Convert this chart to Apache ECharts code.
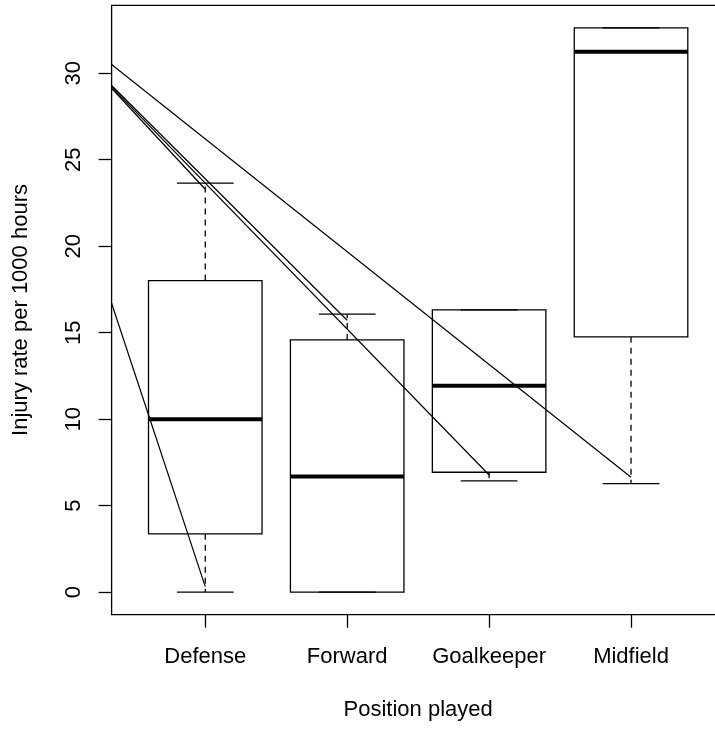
<!DOCTYPE html>
<html>
<head>
<meta charset="utf-8">
<script src="https://cdn.jsdelivr.net/npm/echarts@6/dist/echarts.min.js"></script>
<style>
html,body{margin:0;padding:0;background:#fff}
#c{width:715px;height:729px}
</style>
</head>
<body>
<div id="c"></div>
<script>
// ---- data ----
const categories = ['Defense', 'Forward', 'Goalkeeper', 'Midfield'];
const lowerWhisker = [0, 0, 6.43, 6.27];
const q1Values = [3.37, 0, 6.93, 14.76];
const medianValues = [10.0, 6.68, 11.93, 31.24];
const q3Values = [18.01, 14.58, 16.32, 32.62];
const upperWhisker = [23.65, 16.07, 16.32, 32.62];

// straight line segments drawn over the plot (start at left plot edge)
const segStartY = [29.13, 29.29, 29.21, 30.5, 16.7];
const segEndX = [1, 2, 3, 4, 1];
const segEndY = [23.29, 15.72, 6.77, 6.64, 0.32];

const yTicks = [0, 5, 10, 15, 20, 25, 30];
const xTicks = [1, 2, 3, 4];
const xTitle = 'Position played';
const yTitle = 'Injury rate per 1000 hours';

// ---- axis ranges (R style: 4% extension) ----
const xLo = 0.5, xHi = categories.length + 0.5;
const xPad = (xHi - xLo) * 0.04;
const xMin = xLo - xPad, xMax = xHi + xPad;
const allY = lowerWhisker.concat(upperWhisker, q1Values, q3Values);
const yLo = Math.min.apply(null, allY), yHi = Math.max.apply(null, allY);
const yPad = (yHi - yLo) * 0.04;
const yMin = yLo - yPad, yMax = yHi + yPad;

const FONT = '"Liberation Sans", Arial, Helvetica, sans-serif';
const boxData = categories.map((c, i) => [i + 1, lowerWhisker[i], q1Values[i], medianValues[i], q3Values[i], upperWhisker[i]]);

const chart = echarts.init(document.getElementById('c'), null, {renderer: 'canvas'});

const series = [{
  type: 'custom',
  data: boxData,
  clip: true,
  silent: true,
  renderItem: function (params, api) {
    const x = api.value(0), lw = api.value(1), q1 = api.value(2), med = api.value(3), q3 = api.value(4), uw = api.value(5);
    const hb = 0.4, hc = 0.2;
    const tl = api.coord([x - hb, q3]);
    const br = api.coord([x + hb, q1]);
    const mL = api.coord([x - hb, med]), mR = api.coord([x + hb, med]);
    const cU = api.coord([x, uw]), cQ3 = api.coord([x, q3]);
    const cL = api.coord([x, lw]), cQ1 = api.coord([x, q1]);
    const capUL = api.coord([x - hc, uw]), capUR = api.coord([x + hc, uw]);
    const capLL = api.coord([x - hc, lw]), capLR = api.coord([x + hc, lw]);
    const stroke = {stroke: '#000', lineWidth: 1.3, fill: null};
    const dashed = {stroke: '#000', lineWidth: 1.3, lineDash: [6, 5], fill: null};
    return {
      type: 'group',
      children: [
        {type: 'line', shape: {x1: cQ3[0], y1: cQ3[1], x2: cU[0], y2: cU[1]}, style: dashed},
        {type: 'line', shape: {x1: cQ1[0], y1: cQ1[1], x2: cL[0], y2: cL[1]}, style: dashed},
        {type: 'rect', shape: {x: tl[0], y: tl[1], width: br[0] - tl[0], height: br[1] - tl[1]}, style: {fill: '#fff', stroke: '#000', lineWidth: 1.3}},
        {type: 'line', shape: {x1: capUL[0], y1: capUL[1], x2: capUR[0], y2: capUR[1]}, style: stroke},
        {type: 'line', shape: {x1: capLL[0], y1: capLL[1], x2: capLR[0], y2: capLR[1]}, style: stroke},
        {type: 'line', shape: {x1: mL[0], y1: mL[1], x2: mR[0], y2: mR[1]}, style: {stroke: '#000', lineWidth: 4}}
      ]
    };
  }
}];

segStartY.forEach((sy, i) => {
  series.push({
    type: 'line',
    data: [[xMin, sy], [segEndX[i], segEndY[i]]],
    showSymbol: false,
    symbol: 'none',
    silent: true,
    clip: true,
    lineStyle: {color: '#000', width: 1.2}
  });
});

chart.setOption({
  animation: false,
  backgroundColor: '#fff',
  grid: {left: 111.6, top: 5.3, width: 613.1, height: 609.4, outerBoundsMode: 'none', show: true, borderColor: '#000', borderWidth: 1.3, backgroundColor: 'transparent'},
  xAxis: {
    type: 'value', min: xMin, max: xMax,
    splitLine: {show: false},
    axisLine: {show: false, onZero: false},
    axisTick: {show: true, customValues: xTicks, length: 13, lineStyle: {color: '#000', width: 1.3}},
    axisLabel: {customValues: xTicks, formatter: v => categories[Math.round(v) - 1] || '', margin: 31, fontSize: 22, color: '#000', fontFamily: FONT},
    name: xTitle, nameLocation: 'middle', nameGap: 84,
    nameTextStyle: {fontSize: 22, color: '#000', fontFamily: FONT}
  },
  yAxis: {
    type: 'value', min: yMin, max: yMax,
    splitLine: {show: false},
    axisLine: {show: false, onZero: false},
    axisTick: {show: true, customValues: yTicks, length: 13, lineStyle: {color: '#000', width: 1.3}},
    axisLabel: {customValues: yTicks, rotate: 90, margin: 27, fontSize: 22, color: '#000', fontFamily: FONT},
    name: yTitle, nameLocation: 'middle', nameGap: 80,
    nameTextStyle: {fontSize: 22, color: '#000', fontFamily: FONT}
  },
  series: series
});
</script>
</body>
</html>
